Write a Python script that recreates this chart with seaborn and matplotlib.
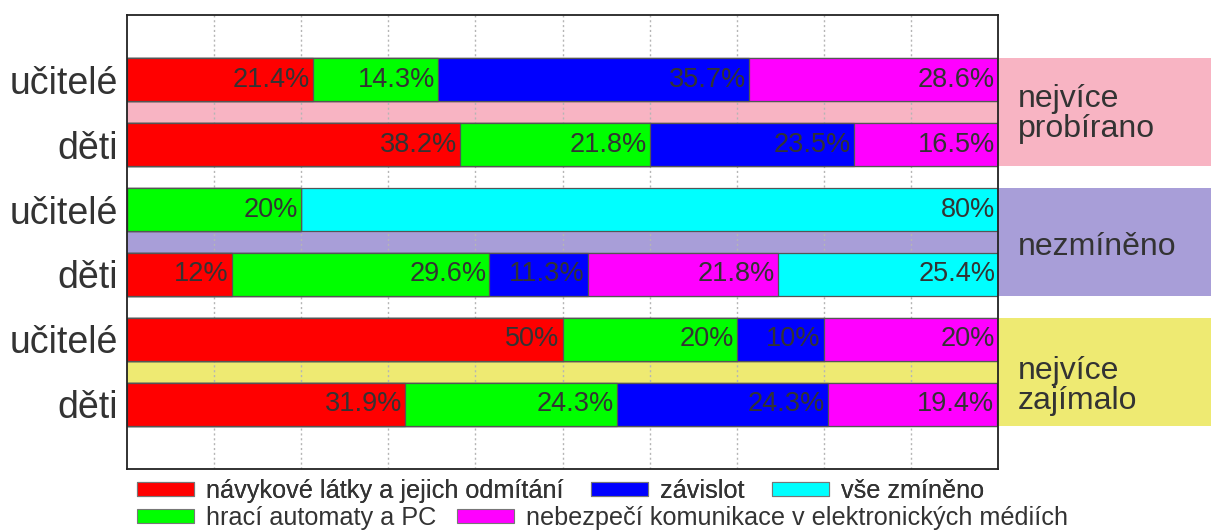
import numpy as np
import pandas as pd
import matplotlib
matplotlib.use("Agg")
import matplotlib.pyplot as plt
import matplotlib.transforms as mtransforms
from matplotlib.patches import Rectangle, Patch
import seaborn as sns

# --- data -------------------------------------------------------------
row_labels = ["učitelé", "děti", "učitelé", "děti", "učitelé", "děti"]
series_names = [
    "návykové látky a jejich odmítání",
    "hrací automaty a PC",
    "závislot",
    "nebezpečí komunikace v elektronických médiích",
    "vše zmíněno",
]
series_colors = ["#ff0000", "#00ff00", "#0000ff", "#ff00ff", "#00ffff"]

navykove = [21.4, 38.2, 0, 12, 50, 31.9]
hraci = [14.3, 21.8, 20, 29.6, 20, 24.3]
zavislost = [35.7, 23.5, 0, 11.3, 10, 24.3]
nebezpeci = [28.6, 16.5, 0, 21.8, 20, 19.4]
vse = [0, 0, 80, 25.4, 0, 0]

group_labels = ["nejvíce\nprobírano", "nezmíněno", "nejvíce\nzajímalo"]
group_colors = ["#f8b4c3", "#a89ed8", "#eeea72"]
group_label_y = [0.52, 2.58, 4.72]

# --- figure -----------------------------------------------------------
sns.set_theme(style="white")
plt.rcParams["font.family"] = ["Liberation Sans", "DejaVu Sans"]
text_color = "#333333"

fig = plt.figure(figsize=(12.11, 5.31), dpi=100)
ax = fig.add_axes([127 / 1211, 1 - 469 / 531, 871 / 1211, 454 / 531])

row_ids = [f"r{i}" for i in range(len(row_labels))]
values = np.array([navykove, hraci, zavislost, nebezpeci, vse], dtype=float)
cum = np.cumsum(values, axis=0)

# stacked bars: draw cumulative totals from the last series to the first
for k in range(len(series_names) - 1, -1, -1):
    df = pd.DataFrame({"row": row_ids, "total": cum[k]})
    sns.barplot(data=df, x="total", y="row", order=row_ids, orient="h",
                color=series_colors[k], saturation=1, width=0.66,
                edgecolor="#555555", linewidth=0.9, ax=ax, zorder=2)

# value labels at the right end of every segment
for k in range(len(series_names)):
    for i in range(len(row_ids)):
        v = values[k, i]
        if v > 0:
            ax.text(cum[k, i] - 0.35, i, f"{v:g}%", ha="right", va="center",
                    fontsize=19.5, color=text_color, zorder=3)

# group bands reaching out to the right of the plot
blend = mtransforms.blended_transform_factory(ax.transAxes, ax.transData)
for g, (lab, col, ly) in enumerate(zip(group_labels, group_colors, group_label_y)):
    top = 2 * g - 0.33
    ax.add_patch(Rectangle((0, top), 1.4, 1.66, transform=blend,
                           facecolor=col, edgecolor="none", zorder=0.5,
                           clip_on=False))
    ax.text(1.023, ly, lab, transform=blend, ha="left", va="center",
            fontsize=23, color=text_color, linespacing=1.0)

# dotted vertical grid every 10 %
for gx in range(10, 100, 10):
    ax.axvline(gx, color="#b5b5b5", linestyle=(0, (1.5, 2)), linewidth=1,
               zorder=1)

ax.set_xlim(0, 100)
ax.set_ylim(6, -1)
ax.set_xticks([])
ax.set_yticks(range(len(row_labels)))
ax.set_yticklabels(row_labels, fontsize=27, color=text_color)
ax.tick_params(axis="y", length=0, pad=6.5)
ax.set_xlabel("")
ax.set_ylabel("")
for sp in ax.spines.values():
    sp.set_visible(True)
    sp.set_color("#222222")
    sp.set_linewidth(1.3)

# legend laid out in two rows
handles = [Patch(facecolor=c, edgecolor="#777777", linewidth=0.8, label=n)
           for c, n in zip(series_colors, series_names)]
legend_kw = dict(frameon=False, fontsize=18.2, labelcolor=text_color,
                 handlelength=2.25, handleheight=0.45, handletextpad=0.47,
                 borderpad=0, borderaxespad=0, loc="center left")
leg1 = fig.legend(handles=[handles[0], handles[2], handles[4]], ncol=3,
                  columnspacing=1.1,
                  bbox_to_anchor=(137 / 1211, 1 - 491 / 531), **legend_kw)
fig.add_artist(leg1)
leg2 = fig.legend(handles=[handles[1], handles[3]], ncol=2,
                  columnspacing=0.85,
                  bbox_to_anchor=(137 / 1211, 1 - 518 / 531), **legend_kw)

fig.savefig("out.png", dpi=100)
